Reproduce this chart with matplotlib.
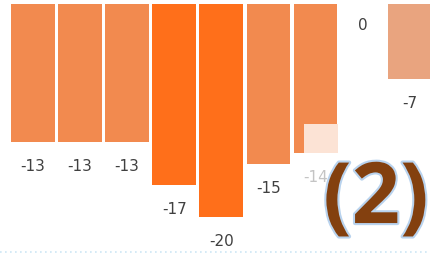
import matplotlib.pyplot as plt
import matplotlib.patheffects as pe

values = [-13, -13, -13, -17, -20, -15, -14, 0, -7]
labels = ["-13", "-13", "-13", "-17", "-20", "-15", "-14", "0", "-7"]
colors = ["#F28A4F", "#F28A4F", "#F28A4F", "#FF6F1A", "#FF6F1A",
          "#F28A4F", "#F28A4F", "#F28A4F", "#E9A47F"]
label_colors = ["#404040"] * 6 + ["#C4C4C4", "#404040", "#404040"]

# pale patch over the lower right part of bar 7
patch_idx = 6
patch_top = -11.3
patch_bottom = -14

fig = plt.figure(figsize=(4.31, 2.55), dpi=100)
ax = fig.add_axes([0, 0, 1, 1])

x = list(range(len(values)))
ax.bar(x, values, width=0.93, color=colors, edgecolor="none")
ax.bar(patch_idx + 0.11, patch_bottom - patch_top, bottom=patch_top,
       width=0.72, color="#FCE3D5", edgecolor="none")

for i, v in enumerate(values):
    if v == 0:
        ax.text(i, -1.9, labels[i], ha="center", va="center",
                fontsize=11, color=label_colors[i])
    else:
        ax.text(i, v - 2.2, labels[i], ha="center", va="center",
                fontsize=11, color=label_colors[i])

ax.text(7.28, -18.5, "(2)", ha="center", va="center", fontsize=61,
        family="Open Sans", weight="bold", color="#83400F",
        path_effects=[pe.withStroke(linewidth=3, foreground="#B9D3EE")])

ax.axhline(-23.3, color="#CDE6F5", lw=1.2, ls=(0, (1, 2)))

ax.set_xlim(-0.70, 8.45)
ax.set_ylim(-23.47, 0.47)
ax.axis("off")

fig.savefig("out.png", dpi=100)
